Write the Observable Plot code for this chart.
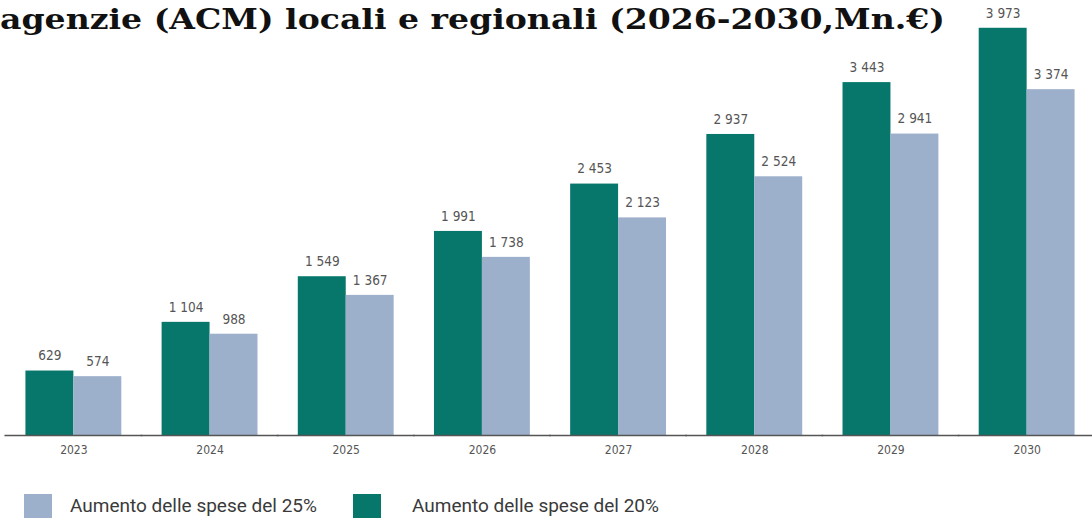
<!DOCTYPE html>
<html>
<head>
<meta charset="utf-8">
<script src="https://cdn.jsdelivr.net/npm/d3@7"></script>
<script src="https://cdn.jsdelivr.net/npm/@observablehq/plot@0.6"></script>
<style>
  html, body { margin: 0; padding: 0; background: #fff; }
  #wrap { position: relative; width: 1092px; height: 522px; overflow: hidden; }
  #chart { position: absolute; left: 0; top: 0; }
  #title { position: absolute; left: 0; top: 0; }
  #legend { position: absolute; left: 0; top: 494px; width: 1092px; height: 26px;
            font-family: Roboto, "Noto Sans", sans-serif; font-size: 19px; color: #3a3a3a; }
  .sw { position: absolute; top: 0; width: 28px; height: 24px; }
  .lt { position: absolute; top: 0; height: 24px; line-height: 24px; white-space: nowrap; }
</style>
</head>
<body>
<div id="wrap">
  <div id="chart"></div>
  <svg id="title" width="1092" height="40"></svg>
  <div id="legend"></div>
</div>
<script>
const titleText = "agenzie (ACM) locali e regionali (2026-2030,Mn.€)";
const years = ["2023","2024","2025","2026","2027","2028","2029","2030"];
const series = ["Aumento delle spese del 20%", "Aumento delle spese del 25%"];
const values20 = [629, 1104, 1549, 1991, 2453, 2937, 3443, 3973];
const values25 = [574, 988, 1367, 1738, 2123, 2524, 2941, 3374];
const colors = ["#07766b", "#9cafcb"];
const legendOrder = [1, 0];

const data = [];
years.forEach((yr, i) => {
  data.push({year: yr, series: series[0], value: values20[i]});
  data.push({year: yr, series: series[1], value: values25[i]});
});

const fmt = d3.formatLocale({decimal: ",", thousands: " ", grouping: [3], currency: ["", ""]}).format(",");

const plot = Plot.plot({
  width: 1092,
  height: 472,
  marginTop: 0,
  marginBottom: 37,
  marginLeft: 5,
  marginRight: -3,
  style: {background: "transparent", overflow: "visible"},
  fx: {domain: years, paddingInner: 0.296, paddingOuter: 0.15, round: false, label: null},
  x: {domain: series, padding: 0, round: false, axis: null},
  y: {domain: [0, 4244], axis: null},
  color: {domain: series, range: colors},
  marks: [
    Plot.barY(data, {fx: "year", x: "series", y: "value", fill: "series"}),
    Plot.text(data, {fx: "year", x: "series", y: "value", text: d => fmt(d.value),
      dy: -15, fill: "#555", fontSize: 13.5,
      fontFamily: "'Liberation Sans Narrow', 'DejaVu Sans Condensed', sans-serif"}),
    Plot.ruleY([0], {stroke: "#555", strokeWidth: 1.5, insetLeft: -21, insetRight: -21}),
    Plot.axisFx({anchor: "bottom", tickSize: 0, tickPadding: 10, label: null,
      color: "#555", fontSize: 12,
      fontFamily: "'Liberation Sans Narrow', 'DejaVu Sans Condensed', sans-serif"})
  ]
});
document.getElementById("chart").appendChild(plot);

// title
const tsvg = d3.select("#title");
tsvg.append("text")
  .attr("x", 0).attr("y", 29)
  .attr("font-family", "'DejaVu Serif', serif")
  .attr("font-weight", "bold")
  .attr("font-size", 28)
  .attr("fill", "#111")
  .attr("textLength", 945)
  .attr("lengthAdjust", "spacingAndGlyphs")
  .text(titleText);

// legend
const lg = d3.select("#legend");
const swLeft = [24, 353];
const txLeft = [70, 412];
legendOrder.forEach((si, k) => {
  lg.append("div").attr("class", "sw").style("left", swLeft[k] + "px").style("background", colors[si]);
  lg.append("span").attr("class", "lt").style("left", txLeft[k] + "px").text(series[si]);
});
</script>
</body>
</html>
